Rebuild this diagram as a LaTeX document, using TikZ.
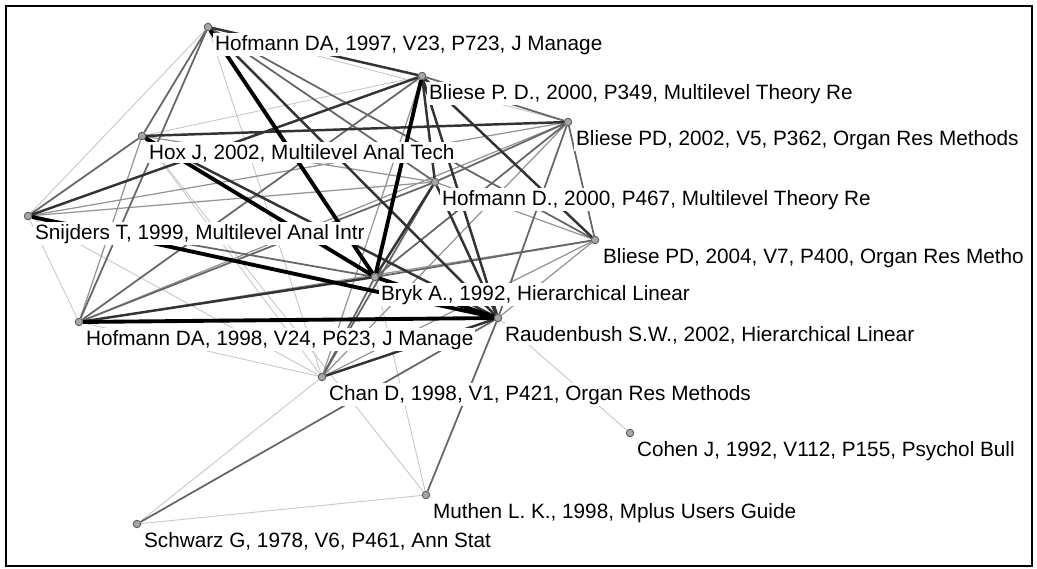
\documentclass[tikz,border=0pt]{standalone}
\usepackage{fontspec}
\setmainfont{Liberation Sans}
\usetikzlibrary{calc,backgrounds}

\begin{document}
\begin{tikzpicture}[
    x=0.02cm, y=-0.02cm,
    dot/.style={circle, draw=black!65, fill=black!35, line width=0.5pt, inner sep=0pt, minimum size=0.15cm},
    lbl/.style={anchor=base west, fill=white, inner xsep=1pt, inner ysep=1pt, font=\fontsize{11.8}{12}\selectfont},
    ea/.style={draw=black!22, line width=0.5pt},
    eb/.style={draw=black!42, line width=0.7pt},
    ec/.style={draw=black!60, line width=1pt},
    ed/.style={draw=black!80, line width=1.4pt},
    ee/.style={draw=black, line width=2.2pt}
]
\useasboundingbox (0,0) rectangle (1037,568);
\draw[line width=1.2pt] (6,6) rectangle (1032,566);

% Cited references
\node[dot] (h97) at (208,27) {};
\node[dot] (bp00) at (422,76) {};
\node[dot] (hox) at (142,136) {};
\node[dot] (bp02) at (568,122) {};
\node[dot] (hd00) at (435,182) {};
\node[dot] (snij) at (28,216) {};
\node[dot] (bp04) at (595,240) {};
\node[dot] (bryk) at (375,277) {};
\node[dot] (h98) at (79,322) {};
\node[dot] (raud) at (498,318) {};
\node[dot] (chan) at (322,377) {};
\node[dot] (cohen) at (630,433) {};
\node[dot] (muth) at (426,495) {};
\node[dot] (schw) at (137,524) {};

% Labels
\node[lbl] (th97) at ($(h97)+(5,23)$) {Hofmann DA, 1997, V23, P723, J Manage};
\node[lbl] (tbp00) at ($(bp00)+(5,23)$) {Bliese P. D., 2000, P349, Multilevel Theory Re};
\node[lbl] (thox) at ($(hox)+(5,23)$) {Hox J, 2002, Multilevel Anal Tech};
\node[lbl] (tbp02) at ($(bp02)+(6,23)$) {Bliese PD, 2002, V5, P362, Organ Res Methods};
\node[lbl] (thd00) at ($(hd00)+(5,23)$) {Hofmann D., 2000, P467, Multilevel Theory Re};
\node[lbl] (tsnij) at ($(snij)+(5,23)$) {Snijders T, 1999, Multilevel Anal Intr};
\node[lbl] (tbp04) at ($(bp04)+(6,23)$) {Bliese PD, 2004, V7, P400, Organ Res Metho};
\node[lbl] (tbryk) at ($(bryk)+(4,23)$) {Bryk A., 1992, Hierarchical Linear};
\node[lbl] (th98) at ($(h98)+(5,23)$) {Hofmann DA, 1998, V24, P623, J Manage};
\node[lbl] (traud) at ($(raud)+(5,23)$) {Raudenbush S.W., 2002, Hierarchical Linear};
\node[lbl] (tchan) at ($(chan)+(5,23)$) {Chan D, 1998, V1, P421, Organ Res Methods};
\node[lbl] (tcohen) at ($(cohen)+(5,23)$) {Cohen J, 1992, V112, P155, Psychol Bull};
\node[lbl] (tmuth) at ($(muth)+(5,23)$) {Muthen L. K., 1998, Mplus Users Guide};
\node[lbl] (tschw) at ($(schw)+(5,23)$) {Schwarz G, 1978, V6, P461, Ann Stat};

% Co-citation links
\begin{scope}[on background layer]
\draw[ea] (h97) -- (snij) (h97) -- (bp02) (h97) -- (chan) (hox) -- (bp00) (hox) -- (chan);
\draw[ea] (snij) -- (h98) (snij) -- (chan) (h98) -- (chan) (raud) -- (cohen);
\draw[ea] (chan) -- (schw) (schw) -- (muth) (muth) -- (bryk) (muth) -- (hox);
\draw[eb] (bp00) -- (chan) (hox) -- (hd00) (hox) -- (h98) (bp02) -- (snij) (bp02) -- (h98);
\draw[eb] (bp02) -- (chan) (hd00) -- (snij) (hd00) -- (bp04) (h98) -- (bp04) (raud) -- (bp04);
\draw[eb] (chan) -- (bp04);
\draw[ec] (h97) -- (hox) (h97) -- (h98) (h97) -- (hd00) (h97) -- (bp04) (bp00) -- (bp02);
\draw[ec] (bp00) -- (h98) (hox) -- (snij) (bp02) -- (hd00) (bp02) -- (bp04) (bp02) -- (bryk);
\draw[ec] (bp02) -- (raud) (hd00) -- (h98) (hd00) -- (chan) (bp04) -- (bryk) (snij) -- (bryk);
\draw[ec] (bryk) -- (chan) (raud) -- (muth) (raud) -- (schw);
\draw[ed] (h97) -- (raud) (h97) -- (bp00) (bp00) -- (hd00) (bp00) -- (raud) (bp00) -- (bp04);
\draw[ed] (bp00) -- (snij) (hox) -- (bp02) (hox) -- (raud) (hd00) -- (bryk) (hd00) -- (raud);
\draw[ed] (bryk) -- (h98) (raud) -- (chan);
\draw[ee] (h97) -- (bryk) (bp00) -- (bryk) (hox) -- (bryk) (snij) -- (raud);
\draw[ee] (bryk) -- (raud) (h98) -- (raud);
\end{scope}

\end{tikzpicture}
\end{document}
